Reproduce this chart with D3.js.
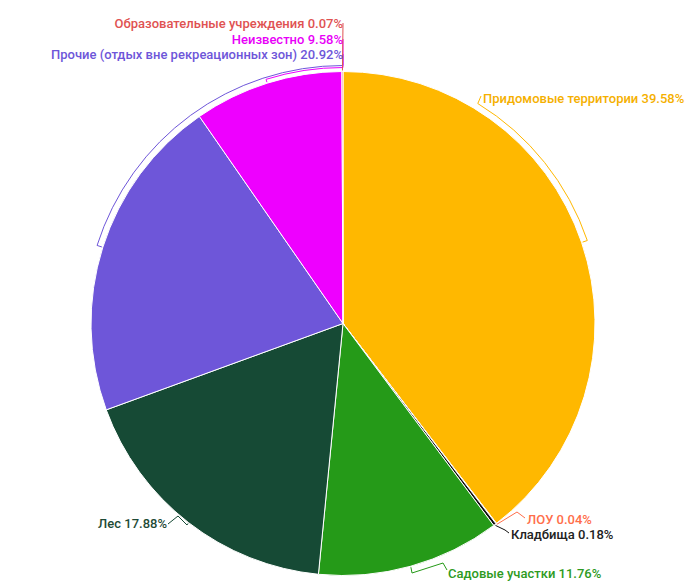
<!DOCTYPE html>
<html><head><meta charset="utf-8">
<script src="https://cdn.jsdelivr.net/npm/d3@7"></script>
<style>body{margin:0;background:#fff}svg{display:block}text{font-family:Roboto,"Noto Sans",sans-serif}</style>
</head><body><svg id="c" width="695" height="585"></svg>
<script>
const categories = ["Придомовые территории","ЛОУ","Кладбища","Садовые участки","Лес","Прочие (отдых вне рекреационных зон)","Неизвестно","Образовательные учреждения"];
const values = [39.58,0.04,0.18,11.76,17.88,20.92,9.58,0.07];
const valueLabels = ["39.58%","0.04%","0.18%","11.76%","17.88%","20.92%","9.58%","0.07%"];
const colors = ["#FFB800","#FF6E4A","#111111","#259A18","#164A35","#6E56D9","#EE00FF","#E05252"];
const textColors = ["#F5B000","#FF6E4A","#222222","#2E9A22","#1E4A36","#6E56D9","#E800F8","#E05252"];

// layout of labels (annotation positions, not data)
const layout = [
  {bracketR:6, bracketTo:31.5, via:[], end:[481,96], tx:483, ty:98, anchor:"start"},
  {via:[[517,512]], end:[525,518], tx:527, ty:519, anchor:"start"},
  {via:[[505,530]], end:[509,533], tx:511, ty:534, anchor:"start"},
  {via:[[412,573],[443,563]], end:[447,570], tx:448, ty:573, anchor:"start"},
  {via:[[187,525],[178,516]], end:[168,524], tx:167, ty:523, anchor:"end"},
  {bracketR:6, bracketTo:360, via:[], end:[343,54], tx:343, ty:54, anchor:"end"},
  {bracketR:4, bracketTo:360, via:[], end:[343,39], tx:343, ty:39, anchor:"end"},
  {via:[], end:[343,23], tx:343, ty:23.5, anchor:"end"}
];

const svg = d3.select("#c");
const cx = 343, cy = 323.5, R = 252;
const g = svg.append("g").attr("transform",`translate(${cx},${cy})`);
const data = categories.map((c,i)=>({c, v:values[i], i}));
const pie = d3.pie().value(d=>d.v).sort(null);
const arcs = pie(data);
const arc = d3.arc().innerRadius(0).outerRadius(R);
g.selectAll("path.slice").data(arcs).join("path").attr("class","slice")
  .attr("d",arc).attr("fill",d=>colors[d.data.i]).attr("stroke","#fff").attr("stroke-width",1);

const pt = (r,a)=>[r*Math.sin(a), -r*Math.cos(a)];
const rad = d=>d*Math.PI/180;
arcs.forEach(d=>{
  const L = layout[d.data.i];
  const m = (d.startAngle+d.endAngle)/2;
  const p = d3.path();
  let s = pt(R+1,m);
  p.moveTo(s[0],s[1]);
  if (L.bracketR){
    const br = R+L.bracketR;
    const a0 = pt(br,m); p.lineTo(a0[0],a0[1]);
    const a1 = rad(L.bracketTo);
    p.arc(0,0,br,m-Math.PI/2,a1-Math.PI/2,a1<m);
  }
  L.via.forEach(v=>p.lineTo(v[0]-cx,v[1]-cy));
  p.lineTo(L.end[0]-cx,L.end[1]-cy);
  g.append("path").attr("d",p.toString()).attr("fill","none")
    .attr("stroke",colors[d.data.i]).attr("stroke-width",1);
});
arcs.forEach(d=>{
  const i=d.data.i, L=layout[i];
  svg.append("text").attr("x",L.tx).attr("y",L.ty).attr("dy","0.35em")
    .attr("text-anchor",L.anchor).attr("font-size",13).attr("font-weight",500)
    .attr("fill",textColors[i]).text(categories[i]+" "+valueLabels[i]);
});
</script></body></html>
